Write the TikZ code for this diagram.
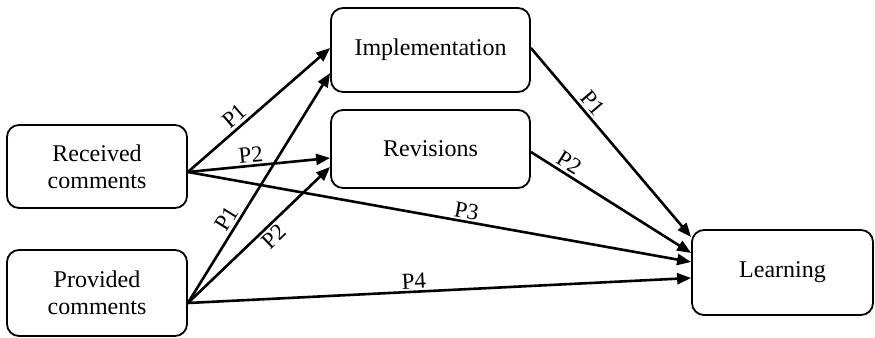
\documentclass[tikz,border=0pt]{standalone}
\usepackage{fontspec}
\setmainfont{Liberation Serif}
\usetikzlibrary{positioning,arrows.meta}

\begin{document}
\begin{tikzpicture}[x=0.5pt,y=-0.5pt,>={Triangle[length=7pt,width=5.5pt]},
  box/.style={draw, line width=0.9pt, rounded corners=6pt, align=center,
    inner sep=0pt, font=\fontsize{12}{13.5}\selectfont},
  path/.style={->, line width=1.3pt},
  plab/.style={sloped, fill=white, inner sep=0.4pt, font=\fontsize{11.5}{12}\selectfont}]

  % frame of the picture
  \useasboundingbox (0,0) rectangle (875,338);

  % the five boxes
  \node[box, minimum width=90pt, minimum height=41.5pt] (rec) at (97,166.5) {Received\\comments};
  \node[box, minimum width=90pt, minimum height=43pt] (prov) at (97,293) {Provided\\comments};
  \node[box, minimum width=99.5pt, minimum height=42pt] (impl) at (430.5,50) {Implementation};
  \node[box, minimum width=99.5pt, minimum height=39pt] (rev) at (430.5,149) {Revisions};
  \node[box, minimum width=90.5pt, minimum height=42.5pt] (learn) at (782.5,272.5) {Learning};

  % paths from received comments
  \draw[path] ([yshift=-2.75pt]rec.east) -- ([yshift=1pt]impl.west)
    node[plab, above=1pt, pos=0.38] {P1};
  \draw[path] ([yshift=-2.75pt]rec.east) -- ([yshift=-4.5pt]rev.west)
    node[plab, above=0.5pt, pos=0.45] {P2};
  \draw[path] ([yshift=-2.75pt]rec.east) -- ([yshift=5.25pt]learn.west)
    node[plab, above=0.5pt, pos=0.55] {P3};

  % paths from provided comments
  \draw[path] ([yshift=-5pt]prov.east) -- ([yshift=-11.5pt]impl.west)
    node[plab, above=1pt, pos=0.34] {P1};
  \draw[path] ([yshift=-5pt]prov.east) -- ([yshift=-9pt]rev.west)
    node[plab, below=1pt, pos=0.55] {P2};
  \draw[path] ([yshift=-5pt]prov.east) -- ([yshift=-2.75pt]learn.west)
    node[plab, above=0.5pt, pos=0.45] {P4};

  % mediators to learning
  \draw[path] ([yshift=1pt]impl.east) -- ([yshift=17.75pt]learn.west)
    node[plab, above=1pt, pos=0.33] {P1};
  \draw[path] ([yshift=-1.5pt]rev.east) -- ([yshift=9.75pt]learn.west)
    node[plab, above=1pt, pos=0.2] {P2};

\end{tikzpicture}
\end{document}
